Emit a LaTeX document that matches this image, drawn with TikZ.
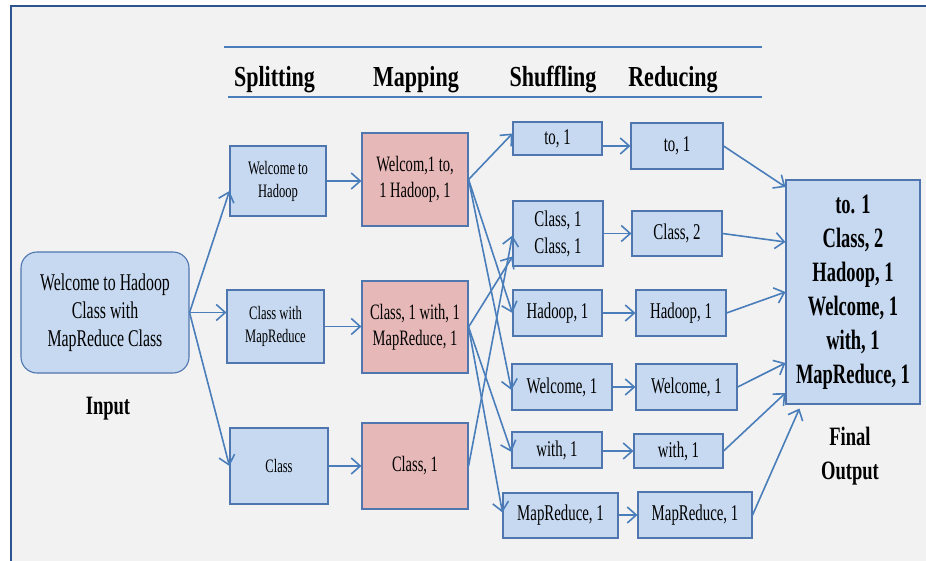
\documentclass[tikz,border=0pt]{standalone}
\usepackage{fontspec}
\setmainfont{Liberation Serif}[FakeStretch=0.66]
\newfontfamily\headfont{Liberation Serif}[FakeStretch=0.76]
\newfontfamily\labelfont{Liberation Serif}[FakeStretch=0.70]
\usetikzlibrary{arrows.meta,calc}

\definecolor{pagegray}{HTML}{F2F2F2}
\definecolor{framec}{HTML}{2B5491}
\definecolor{linec}{HTML}{4A7EBB}
\definecolor{boxfill}{HTML}{C6D9F1}
\definecolor{boxline}{HTML}{4F76AE}
\definecolor{mapfill}{HTML}{E6B9B8}

\tikzset{
  box/.style={draw=boxline, line width=1.1pt, fill=boxfill, inner sep=0pt, align=center},
  mapbox/.style={box, fill=mapfill},
  inbox/.style={box, rounded corners=16pt, font=\fontsize{24}{28}\selectfont},
  splitbox/.style={box, font=\fontsize{19}{23}\selectfont},
  mapfont/.style={font=\fontsize{22}{26}\selectfont},
  pairbox/.style={box, font=\fontsize{22.5}{27}\selectfont},
  outbox/.style={box, font=\bfseries\fontsize{28}{34}\selectfont},
  heading/.style={font=\headfont\bfseries\fontsize{29}{34}\selectfont, anchor=base, inner sep=0pt},
  caption/.style={font=\labelfont\bfseries\fontsize{26.5}{34}\selectfont, align=center, inner sep=0pt},
  rule/.style={draw=linec, line width=2.4pt},
  flow/.style={draw=linec, line width=1.6pt, -{Straight Barb[length=9pt,width=16pt]}},
}

\begin{document}
\begin{tikzpicture}[x=1pt,y=-1pt]
  \useasboundingbox (0,0) rectangle (926,561);
  % page background and frame
  \fill[pagegray] (11,6) rectangle (926,561);
  \draw[framec, line width=2.2pt] (926,6) -- (11,6) -- (11,561);

  % header rules and stage titles
  \coordinate (ruleA1) at (224,47);
  \coordinate (ruleA2) at (762,47);
  \coordinate (ruleB1) at (228,97);
  \coordinate (ruleB2) at (762,97);
  \draw[rule] (ruleA1) -- (ruleA2);
  \draw[rule] (ruleB1) -- (ruleB2);
  \node[heading] (hSplit) at (274.5,87) {Splitting};
  \node[heading] (hMap)   at (416,87)   {Mapping};
  \node[heading] (hShuf)  at (553,87)   {Shuffling};
  \node[heading] (hRed)   at (673,87)   {Reducing};

  % input
  \node[inbox, minimum width=168pt, minimum height=121pt] (in) at (105,312.5)
    {Welcome to Hadoop\\Class with\\MapReduce Class};
  \node[caption] (inLabel) at (108,409) {Input};

  % splitting
  \node[splitbox, minimum width=96pt, minimum height=70pt] (s1) at (278,181) {Welcome to\\Hadoop};
  \node[splitbox, minimum width=97pt, minimum height=73pt] (s2) at (275.5,326.5) {Class with\\MapReduce};
  \node[splitbox, minimum width=98pt, minimum height=76pt] (s3) at (279,466) {Class};

  % mapping
  \node[mapbox, mapfont, minimum width=106pt, minimum height=93pt] (m1) at (415,179.5) {Welcom,1 to,\\1 Hadoop, 1};
  \node[mapbox, mapfont, minimum width=106pt, minimum height=92pt] (m2) at (415,327) {Class, 1 with, 1\\MapReduce, 1};
  \node[mapbox, mapfont, minimum width=106pt, minimum height=86pt] (m3) at (415,466) {Class, 1};

  % shuffling
  \node[pairbox, minimum width=89pt,  minimum height=33pt] (h1) at (557.5,138.5) {to, 1};
  \node[pairbox, minimum width=90pt,  minimum height=65pt] (h2) at (558,233.5) {Class, 1\\Class, 1};
  \node[pairbox, minimum width=89pt,  minimum height=46pt] (h3) at (557.5,313) {Hadoop, 1};
  \node[pairbox, minimum width=100pt, minimum height=46pt] (h4) at (562,387) {Welcome, 1};
  \node[pairbox, minimum width=90pt,  minimum height=36pt] (h5) at (557,450) {with, 1};
  \node[pairbox, minimum width=115pt, minimum height=45pt] (h6) at (560.5,515.5) {MapReduce, 1};

  % reducing
  \node[pairbox, minimum width=92pt,  minimum height=46pt] (r1) at (677,146) {to, 1};
  \node[pairbox, minimum width=90pt,  minimum height=45pt] (r2) at (677,233.5) {Class, 2};
  \node[pairbox, minimum width=90pt,  minimum height=46pt] (r3) at (681,313) {Hadoop, 1};
  \node[pairbox, minimum width=101pt, minimum height=46pt] (r4) at (686.5,387) {Welcome, 1};
  \node[pairbox, minimum width=89pt,  minimum height=34pt] (r5) at (678.5,451) {with, 1};
  \node[pairbox, minimum width=114pt, minimum height=46pt] (r6) at (695,515) {MapReduce, 1};

  % final output
  \node[outbox, minimum width=134pt, minimum height=224pt] (out) at (853,292)
    {to. 1\\Class, 2\\Hadoop, 1\\Welcome, 1\\with, 1\\MapReduce, 1};
  \node[caption] (outLabel) at (850,456) {Final\\Output};

  % input -> splitting
  \draw[flow] (in.east) -- ($(s1.west)+(0,10)$);
  \draw[flow] (in.east) -- ($(s2.west)+(0,-14)$);
  \draw[flow] (in.east) -- (s3.west);

  % splitting -> mapping
  \draw[flow] (s1.east) -- (s1.east -| m1.west);
  \draw[flow] (s2.east) -- (s2.east -| m2.west);
  \draw[flow] (s3.east) -- (s3.east -| m3.west);

  % mapping -> shuffling
  \draw[flow] (m1.east) -- ($(h1.west)+(0,-5)$);
  \draw[flow] (m1.east) -- (h3.west);
  \draw[flow] (m1.east) -- ($(h4.west)+(0,3)$);
  \draw[flow] (m2.east) -- ($(h2.west)+(0,23)$);
  \draw[flow] (m3.east) -- ($(h2.west)+(0,2)$);
  \draw[flow] (m2.east) -- ($(h5.west)+(0,2)$);
  \draw[flow] (m2.east) -- ($(h6.west)+(0,-3)$);

  % shuffling -> reducing
  \draw[flow] (h1.east |- r1.west) -- (r1.west);
  \draw[flow] (h2.east |- r2.west) -- (r2.west);
  \draw[flow] (h3.east |- r3.west) -- (r3.west);
  \draw[flow] (h4.east |- r4.west) -- (r4.west);
  \draw[flow] (h5.east |- r5.west) -- (r5.west);
  \draw[flow] (h6.east |- r6.west) -- (r6.west);

  % reducing -> final output
  \coordinate (outFoot) at ($(out.south west)+(14,4)$);
  \draw[flow] (r1.east) -- ($(out.west)+(0,-105)$);
  \draw[flow] (r2.east) -- ($(out.west)+(0,-50)$);
  \draw[flow] (r3.east) -- (out.west);
  \draw[flow] (r4.east) -- ($(out.west)+(0,71)$);
  \draw[flow] (r5.east) -- ($(out.west)+(0,101)$);
  \draw[flow] (r6.east) -- (outFoot);
\end{tikzpicture}
\end{document}
